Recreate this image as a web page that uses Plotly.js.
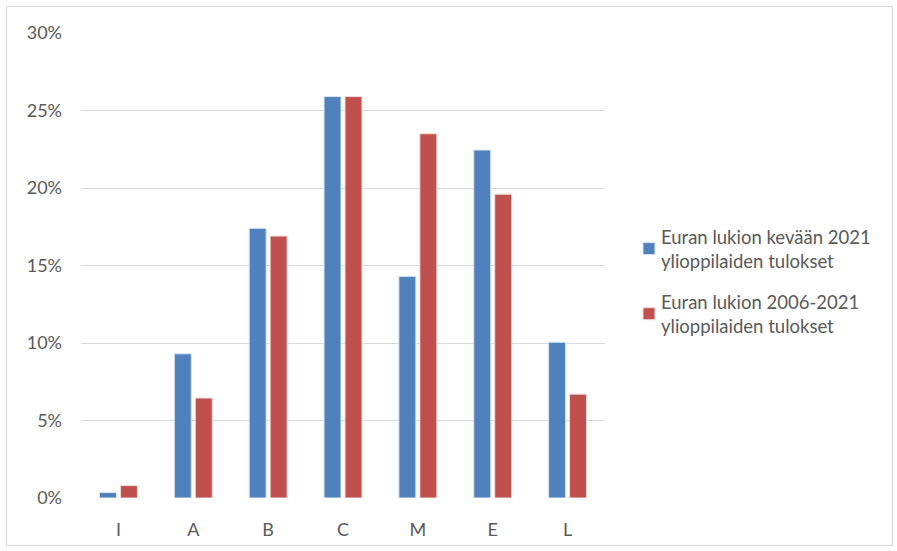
<!DOCTYPE html>
<html>
<head>
<meta charset="utf-8">
<script src="https://cdn.plot.ly/plotly-3.0.1.min.js"></script>
<style>
html,body{margin:0;padding:0;background:#fff;}
#wrap{position:relative;width:897px;height:551px;}
#chart{width:897px;height:551px;}
#frame{position:absolute;left:6px;top:6px;width:885px;height:538px;border:1px solid #d9d9d9;pointer-events:none;}
</style>
</head>
<body>
<div id="wrap"><div id="chart"></div><div id="frame"></div></div>
<script>
const categories = ["I", "A", "B", "C", "M", "E", "L"];
const series1Name = "Euran lukion kevään 2021<br>ylioppilaiden tulokset";
const series1 = [0.35, 9.3, 17.4, 25.9, 14.3, 22.45, 10.05];
const series2Name = "Euran lukion 2006-2021<br>ylioppilaiden tulokset";
const series2 = [0.8, 6.45, 16.9, 25.9, 23.5, 19.6, 6.7];
const yTicks = [0, 5, 10, 15, 20, 25, 30];
const yTickText = yTicks.map(v => v + "%");

const fam = "Lato, Open Sans, sans-serif";
const txtColor = "#595959";

const data = [
  {type: "bar", x: categories, y: series1, name: series1Name, legendgroup: "g1",
   marker: {color: "#4F81BD", line: {color: "#dce6f2", width: 1}}, hoverinfo: "y"},
  {type: "bar", x: categories, y: series2, name: series2Name, legendgroup: "g2",
   marker: {color: "#C0504D", line: {color: "#f2dcdb", width: 1}}, hoverinfo: "y"}
];

const layout = {
  width: 897, height: 551,
  margin: {l: 81, r: 292, t: 33, b: 53},
  paper_bgcolor: "#fff", plot_bgcolor: "#fff",
  barmode: "group", bargap: 0.44, bargroupgap: 0.19,
  font: {family: fam, size: 18, color: txtColor},
  xaxis: {showgrid: false, zeroline: false, showline: false, ticks: "",
          tickfont: {family: fam, size: 18, color: txtColor}, ticklabelstandoff: 19},
  yaxis: {range: [0, 30], tickvals: yTicks, ticktext: yTickText, showgrid: true,
          gridcolor: "#d9d9d9", gridwidth: 1, zeroline: false, showline: false, ticks: "",
          tickfont: {family: fam, size: 18, color: txtColor}, ticklabelstandoff: 18},
  legend: {x: 1.0305, xanchor: "left", y: 0.602, yanchor: "top",
           font: {family: fam, size: 18.5, color: txtColor}, tracegroupgap: 14,
           itemwidth: 30},
  showlegend: true
};

Plotly.newPlot("chart", data, layout, {displayModeBar: false, staticPlot: true}).then(function (gd) {
  gd.querySelectorAll(".legend .legendsymbols").forEach(function (s) {
    s.setAttribute("transform", "translate(8,0)");
  });
});
</script>
</body>
</html>
